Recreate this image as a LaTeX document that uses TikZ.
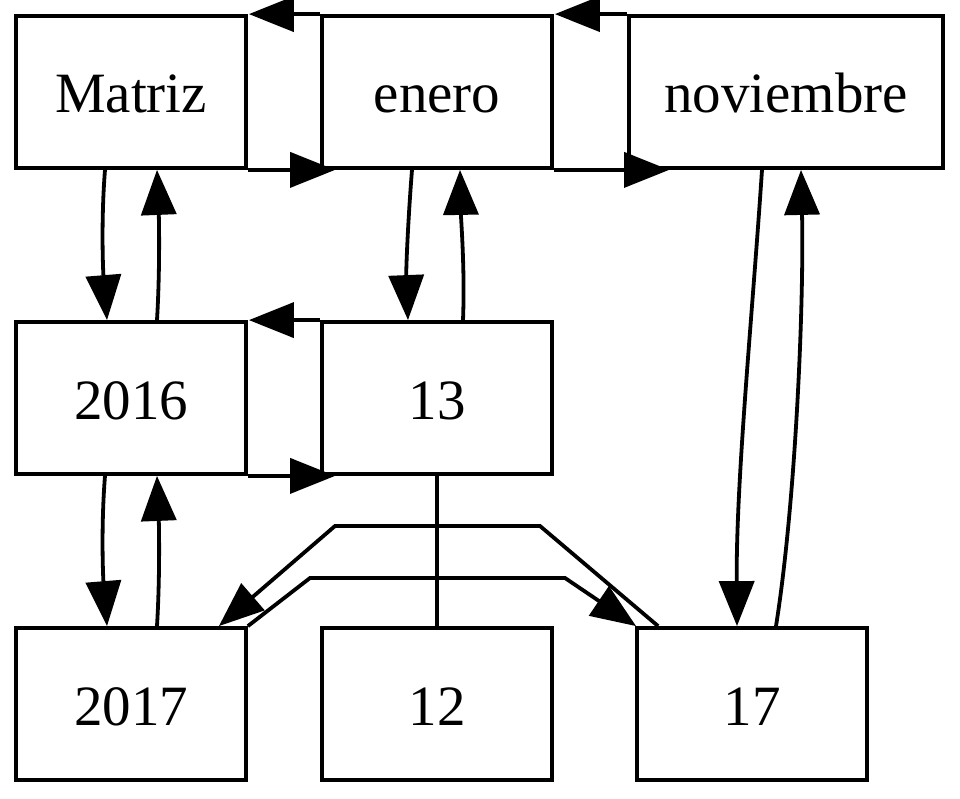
\documentclass[tikz,border=0pt]{standalone}
\usepackage{fontspec}
\setmainfont{Liberation Serif}
\usetikzlibrary{arrows.meta,calc}
\tikzset{
  box/.style={draw, line width=3.8pt, minimum width=230pt, minimum height=152pt, inner sep=0pt, text height=52pt, text depth=10pt, font=\fontsize{57}{60}\selectfont},
  edge/.style={line width=3.8pt, -{Triangle[length=45pt,width=35pt]}},
  plain/.style={line width=3.8pt}
}
\begin{document}
\begin{tikzpicture}[x=1pt,y=-1pt]
\useasboundingbox (0,0) rectangle (960,799);
\node[box] (matriz) at (131,92) {Matriz};
\node[box] (enero) at (437,92) {enero};
\node[box, minimum width=314pt] (nov) at (786,92) {noviembre};
\node[box] (a2016) at (131,398) {2016};
\node[box] (n13) at (437,398) {13};
\node[box] (a2017) at (131,704) {2017};
\node[box] (n12) at (437,704) {12};
\node[box] (n17) at (752,704) {17};
% horizontal pairs
\draw[edge] (matriz.south east) -- ($(enero.south west)+(15,0)$);
\draw[edge] (enero.north west) -- ($(matriz.north east)+(1,0)$);
\draw[edge] (enero.south east) -- ($(nov.south west)+(42,0)$);
\draw[edge] (nov.north west) -- ($(enero.north east)+(1,0)$);
\draw[edge] (a2016.south east) -- ($(n13.south west)+(15,0)$);
\draw[edge] (n13.north west) -- ($(a2016.north east)+(1,0)$);
% vertical pairs
\draw[edge] ($(matriz.south)+(-26,0)$) .. controls ($(matriz.south)+(-30,50)$) and ($(a2016.north)+(-28,-50)$) .. ($(a2016.north)+(-24,0)$);
\draw[edge] ($(a2016.north)+(26,0)$) .. controls ($(a2016.north)+(29,-50)$) and ($(matriz.south)+(28,50)$) .. ($(matriz.south)+(26,0)$);
\draw[edge] ($(a2016.south)+(-26,0)$) .. controls ($(a2016.south)+(-30,50)$) and ($(a2017.north)+(-28,-50)$) .. ($(a2017.north)+(-24,0)$);
\draw[edge] ($(a2017.north)+(26,0)$) .. controls ($(a2017.north)+(29,-50)$) and ($(a2016.south)+(28,50)$) .. ($(a2016.south)+(26,0)$);
\draw[edge] ($(enero.south)+(-25,0)$) .. controls ($(enero.south)+(-29,50)$) and ($(n13.north)+(-31,-50)$) .. ($(n13.north)+(-29,0)$);
\draw[edge] ($(n13.north)+(26,0)$) .. controls ($(n13.north)+(28,-50)$) and ($(enero.south)+(24,50)$) .. ($(enero.south)+(23,0)$);
\draw[edge] ($(nov.south)+(-24,0)$) .. controls (752,320) and (736,480) .. ($(n17.north)+(-15,0)$);
\draw[edge] ($(n17.north)+(24,0)$) .. controls (796,500) and (804,300) .. ($(nov.south)+(15,0)$);
% lower routed edges
\draw[edge] (a2017.north east) -- (310,578) -- (565,578) -- ($(n17.north west)+(1,0)$);
\draw[edge] ($(n17.north west)+(23,0)$) -- (540,526) -- (335,526) -- ($(a2017.north east)+(-29,0)$);
\draw[plain] (n13.south) -- (n12.north);
\end{tikzpicture}
\end{document}
